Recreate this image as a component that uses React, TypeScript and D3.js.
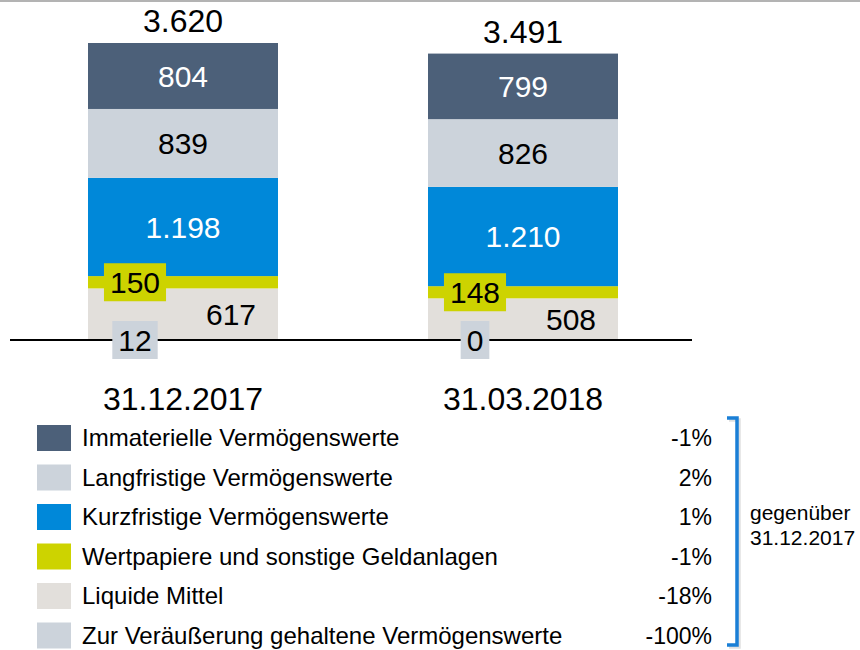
import React, { useRef, useEffect } from 'react';
import * as d3 from 'd3';

// Stichtage
const categories = ['31.12.2017', '31.03.2018'];

// Werte je Position (Mio. EUR), von oben nach unten im Stapel
const immaterielle = [804, 799];
const langfristige = [839, 826];
const kurzfristige = [1198, 1210];
const wertpapiere = [150, 148];
const liquide = [617, 508];
const zurVeraeusserung = [12, 0];
const totals = [3620, 3491];

const legendNames = [
  'Immaterielle Vermögenswerte',
  'Langfristige Vermögenswerte',
  'Kurzfristige Vermögenswerte',
  'Wertpapiere und sonstige Geldanlagen',
  'Liquide Mittel',
  'Zur Veräußerung gehaltene Vermögenswerte',
];
const changes = ['-1%', '2%', '1%', '-1%', '-18%', '-100%'];
const noteLines = ['gegenüber', '31.12.2017'];

const FONT = "'Liberation Sans', Arial, sans-serif";

const fmt = (v: number) => v.toLocaleString('de-DE');

const App = () => {
  const svgRef = useRef<SVGSVGElement | null>(null);

  useEffect(() => {
    const width = 860;
    const height = 650;
    const svg = d3.select(svgRef.current).attr('width', width).attr('height', height);
    svg.selectAll('*').remove();

    const colors = ['#4c6079', '#ccd3db', '#0088d9', '#cdd300', '#e2dfdb', '#ccd3db'];
    // stack order bottom -> top
    const seriesBottomUp = [zurVeraeusserung, liquide, wertpapiere, kurzfristige, langfristige, immaterielle];
    const keys = ['zur', 'liquide', 'wertpapiere', 'kurz', 'lang', 'immat'];
    const colorBottomUp = [colors[5], colors[4], colors[3], colors[2], colors[1], colors[0]];

    const rows = categories.map((c, i) => {
      const r: any = { cat: c };
      keys.forEach((k, j) => (r[k] = seriesBottomUp[j][i]));
      return r;
    });
    const stacked = d3.stack().keys(keys)(rows);

    const y = d3.scaleLinear().domain([0, 3620]).range([340, 43]);
    const x = d3.scalePoint().domain(categories).range([183, 523]);
    const barW = 190;

    // top rule
    svg.append('rect').attr('x', 0).attr('y', 0).attr('width', width).attr('height', 2).attr('fill', '#b3b3b3');

    // bars
    stacked.forEach((layer, j) => {
      svg.append('g')
        .selectAll('rect')
        .data(layer)
        .enter()
        .append('rect')
        .attr('x', (d: any) => x(d.data.cat)! - barW / 2)
        .attr('y', (d) => y(d[1]))
        .attr('width', barW)
        .attr('height', (d) => y(d[0]) - y(d[1]))
        .attr('fill', colorBottomUp[j]);
    });

    // baseline
    svg.append('line')
      .attr('x1', 10).attr('x2', 692)
      .attr('y1', y(0)).attr('y2', y(0))
      .attr('stroke', '#000').attr('stroke-width', 2);

    // centered labels for the big segments
    const centered = [
      { layer: 5, fill: '#fff' },
      { layer: 4, fill: '#000' },
      { layer: 3, fill: '#fff' },
    ];
    centered.forEach(({ layer, fill }) => {
      svg.append('g')
        .selectAll('text')
        .data(stacked[layer])
        .enter()
        .append('text')
        .attr('x', (d: any) => x(d.data.cat)!)
        .attr('y', (d) => (y(d[0]) + y(d[1])) / 2)
        .attr('dy', '0.36em')
        .attr('text-anchor', 'middle')
        .style('font-family', FONT)
        .style('font-size', '30px')
        .style('fill', fill)
        .text((d) => fmt(d[1] - d[0]));
    });

    // Liquide Mittel label, shifted right
    svg.append('g')
      .selectAll('text')
      .data(stacked[1])
      .enter()
      .append('text')
      .attr('x', (d: any) => x(d.data.cat)! + 48)
      .attr('y', (d) => (y(d[0]) + y(d[1])) / 2)
      .attr('dy', '0.36em')
      .attr('text-anchor', 'middle')
      .style('font-family', FONT)
      .style('font-size', '30px')
      .style('fill', '#000')
      .text((d) => fmt(d[1] - d[0]));

    // boxed labels: Wertpapiere (on segment) and Zur Veräußerung (on baseline)
    const boxed = [
      { layer: 2, color: colors[3], atBase: false },
      { layer: 0, color: colors[5], atBase: true },
    ];
    boxed.forEach(({ layer, color, atBase }) => {
      stacked[layer].forEach((d: any) => {
        const cx = x(d.data.cat)! - 48;
        const cy = atBase ? y(0) : (y(d[0]) + y(d[1])) / 2;
        const g = svg.append('g');
        const t = g.append('text')
          .attr('x', cx)
          .attr('y', cy)
          .attr('dy', '0.36em')
          .attr('text-anchor', 'middle')
          .style('font-family', FONT)
          .style('font-size', '30px')
          .style('fill', '#000')
          .text(fmt(d[1] - d[0]));
        const w = (t.node() as SVGTextElement).getComputedTextLength() + 12;
        g.insert('rect', 'text')
          .attr('x', cx - w / 2)
          .attr('y', cy - 19)
          .attr('width', w)
          .attr('height', 38)
          .attr('fill', color);
      });
    });

    // totals
    svg.append('g')
      .selectAll('text')
      .data(categories)
      .enter()
      .append('text')
      .attr('x', (c) => x(c)!)
      .attr('y', (c, i) => y(totals[i]) - 11)
      .attr('text-anchor', 'middle')
      .style('font-family', FONT)
      .style('font-size', '32px')
      .style('fill', '#000')
      .text((c, i) => fmt(totals[i]));

    // category labels
    svg.append('g')
      .selectAll('text')
      .data(categories)
      .enter()
      .append('text')
      .attr('x', (c) => x(c)!)
      .attr('y', 410)
      .attr('text-anchor', 'middle')
      .style('font-family', FONT)
      .style('font-size', '32px')
      .style('fill', '#000')
      .text((c) => c);

    // legend
    const legend = svg.append('g');
    legendNames.forEach((name, i) => {
      const top = 425 + i * 39.5;
      legend.append('rect')
        .attr('x', 37).attr('y', top)
        .attr('width', 34).attr('height', 26)
        .attr('fill', colors[i]);
      legend.append('text')
        .attr('x', 82).attr('y', top + 21)
        .style('font-family', FONT)
        .style('font-size', '24px')
        .style('fill', '#000')
        .text(name);
      legend.append('text')
        .attr('x', 712).attr('y', top + 21)
        .attr('text-anchor', 'end')
        .style('font-family', FONT)
        .style('font-size', '23px')
        .style('fill', '#000')
        .text(changes[i]);
    });

    // bracket
    const bracketPath = 'M727,418 H737 V645 H727';
    svg.append('path')
      .attr('d', bracketPath)
      .attr('transform', 'translate(2,2)')
      .attr('fill', 'none')
      .attr('stroke', '#000')
      .attr('stroke-opacity', 0.12)
      .attr('stroke-width', 3.5);
    svg.append('path')
      .attr('d', bracketPath)
      .attr('fill', 'none')
      .attr('stroke', '#1a7fd6')
      .attr('stroke-width', 3.5);

    noteLines.forEach((line, i) => {
      svg.append('text')
        .attr('x', 750).attr('y', 520 + i * 25)
        .style('font-family', FONT)
        .style('font-size', '21px')
        .style('fill', '#000')
        .text(line);
    });
  }, []);

  return <svg ref={svgRef} style={{ position: 'absolute', left: 0, top: 0 }}></svg>;
};

export default App;
